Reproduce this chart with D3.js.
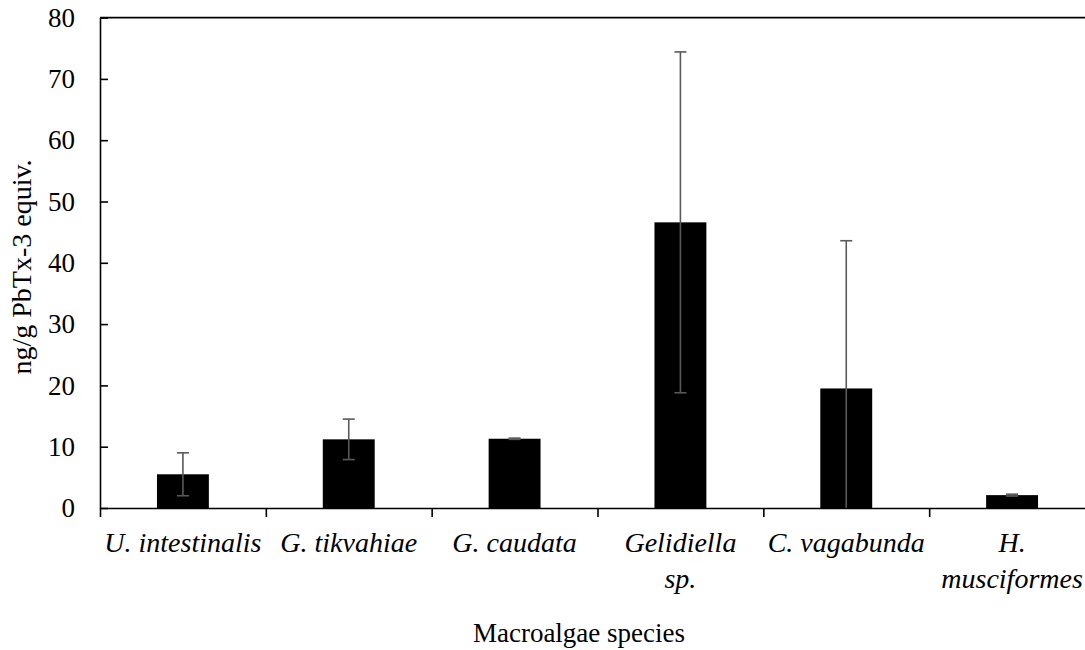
<!DOCTYPE html>
<html>
<head>
<meta charset="utf-8">
<script src="https://cdn.jsdelivr.net/npm/d3@7"></script>
<style>
  html, body { margin: 0; padding: 0; background: #fff; }
  svg { display: block; }
  svg text { font-family: "Liberation Serif", "Times New Roman", "DejaVu Serif", serif !important; }
</style>
</head>
<body>
<svg id="chart" width="1085" height="650"></svg>
<script>
// Toxin content by macroalgae species (mean ± SD)
const categories = ["U. intestinalis", "G. tikvahiae", "G. caudata", "Gelidiella sp.", "C. vagabunda", "H. musciformes"];
const categoryLines = [["U. intestinalis"], ["G. tikvahiae"], ["G. caudata"], ["Gelidiella", "sp."], ["C. vagabunda"], ["H.", "musciformes"]];
const means = [5.5, 11.2, 11.3, 46.6, 19.5, 2.1];
const sds = [3.5, 3.3, 0.1, 27.8, 24.1, 0.15];
const yTicks = [0, 10, 20, 30, 40, 50, 60, 70, 80];

const svg = d3.select("#chart");
const plotLeft = 100, plotRight = 1095, plotTop = 17.6, plotBottom = 508;

const x = d3.scaleBand().domain(categories).range([plotLeft, plotRight]).padding(0);
const y = d3.scaleLinear().domain([0, 80]).range([plotBottom, plotTop]);
const edges = d3.scaleLinear().domain([0, categories.length]).range([plotLeft, plotRight]);
const barFrac = 0.313;

// plot frame top edge
svg.append("line")
  .attr("x1", plotLeft).attr("x2", plotRight + 2)
  .attr("y1", y(80)).attr("y2", y(80))
  .attr("stroke", "#000").attr("stroke-width", 1.6);

// bars
svg.append("g").selectAll("rect")
  .data(categories)
  .join("rect")
  .attr("x", (d) => x(d) + x.bandwidth() * (1 - barFrac) / 2)
  .attr("width", x.bandwidth() * barFrac)
  .attr("y", (d, i) => y(means[i]))
  .attr("height", (d, i) => y(0) - y(means[i]))
  .attr("fill", "#000");

// error bars (lower whisker clipped at the axis)
const err = svg.append("g").attr("stroke", "#595959").attr("stroke-width", 1.6);
categories.forEach((c, i) => {
  const cx = x(c) + x.bandwidth() / 2;
  const hi = means[i] + sds[i];
  const loRaw = means[i] - sds[i];
  const lo = Math.max(loRaw, 0);
  err.append("line").attr("x1", cx).attr("x2", cx).attr("y1", y(lo)).attr("y2", y(hi));
  err.append("line").attr("x1", cx - 6).attr("x2", cx + 6).attr("y1", y(hi)).attr("y2", y(hi));
  if (loRaw >= 0) {
    err.append("line").attr("x1", cx - 6).attr("x2", cx + 6).attr("y1", y(lo)).attr("y2", y(lo));
  }
});

// y axis (ticks point inward)
const yAxis = svg.append("g")
  .attr("transform", `translate(${plotLeft},0)`)
  .call(d3.axisLeft(y).tickValues(yTicks).tickSizeInner(-8).tickSizeOuter(0).tickPadding(25));
yAxis.attr("font-family", null);
yAxis.select(".domain").attr("stroke", "#000").attr("stroke-width", 1.6);
yAxis.selectAll(".tick line").attr("stroke", "#000").attr("stroke-width", 1.6);
yAxis.selectAll(".tick text")
  .style("font-size", "27px").attr("fill", "#000");

// x axis with category boundary ticks
const xAxis = svg.append("g")
  .attr("transform", `translate(0,${plotBottom})`)
  .call(d3.axisBottom(edges).tickValues(d3.range(categories.length + 1)).tickFormat("").tickSizeInner(9).tickSizeOuter(0));
xAxis.select(".domain").attr("stroke", "#000").attr("stroke-width", 1.6);
xAxis.selectAll(".tick line").attr("stroke", "#000").attr("stroke-width", 1.6);

// category labels
const labels = svg.append("g").attr("text-anchor", "middle").attr("fill", "#000");
categories.forEach((c, i) => {
  const cx = x(c) + x.bandwidth() / 2;
  const t = labels.append("text")
    .attr("x", cx).attr("y", 552)
    .style("font-size", "28px").style("font-style", "italic");
  categoryLines[i].forEach((ln, j) => {
    t.append("tspan").attr("x", cx).attr("dy", j === 0 ? 0 : 36).text(ln);
  });
});

// axis titles
svg.append("text")
  .attr("x", 579).attr("y", 642)
  .attr("text-anchor", "middle").style("font-size", "27px").attr("fill", "#000")
  .text("Macroalgae species");

svg.append("text")
  .attr("transform", `translate(31,267) rotate(-90)`)
  .attr("text-anchor", "middle").style("font-size", "28px").attr("fill", "#000")
  .text("ng/g PbTx-3 equiv.");
</script>
</body>
</html>
